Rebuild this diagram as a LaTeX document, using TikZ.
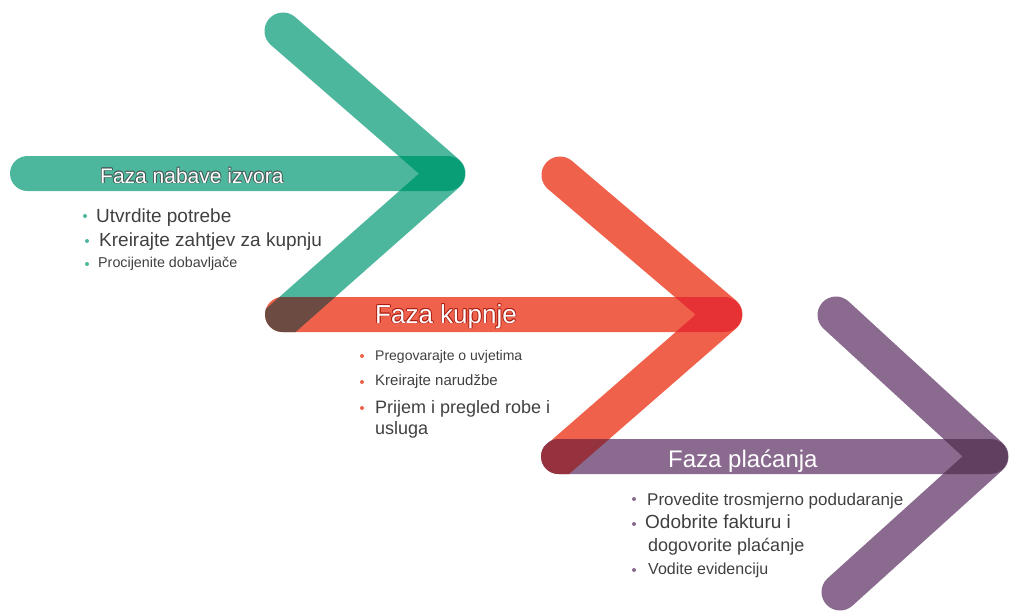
\documentclass[tikz,border=0pt]{standalone}
\usepackage{fontspec}
\setmainfont{Liberation Sans}
\definecolor{tealc}{RGB}{77,183,158}
\definecolor{tealo}{RGB}{10,158,118}
\definecolor{redc}{RGB}{240,97,75}
\definecolor{redo}{RGB}{230,50,52}
\definecolor{purc}{RGB}{138,106,142}
\definecolor{puro}{RGB}{96,64,97}
\definecolor{brownx}{RGB}{108,76,66}
\definecolor{maroonx}{RGB}{150,50,62}
\definecolor{txt}{RGB}{64,64,64}
\definecolor{tealout}{RGB}{70,90,85}
\definecolor{redout}{RGB}{170,30,20}
\begin{document}
\begin{tikzpicture}[x=1pt,y=-1pt,
  arm/.style={line width=37pt, line cap=round, line join=round},
  item/.style={anchor=base west, inner sep=0pt, text=txt},
  bul/.style={circle, inner sep=0pt, minimum size=4pt},
  head/.style={anchor=base west, inner sep=0pt, text=white}]
\useasboundingbox (0,0) rectangle (1009,611);
\clip (0,0) rectangle (1009,611);
% ---------- teal chevron
\coordinate (tA) at (283,31);
\coordinate (tT) at (447,173.5);
\coordinate (tB) at (236,360);
\fill[tealc, rounded corners=17.5pt] (10,156) rectangle (465,191);
\begin{scope}
  \clip (0,0) rectangle (1009,297.5);
  \draw[arm, tealc] (tA) -- (tT) -- (tB);
\end{scope}
\begin{scope}
  \clip[rounded corners=17.5pt] (10,156) rectangle (465,191);
  \draw[arm, tealo] (tA) -- (tT) -- (tB);
\end{scope}
% ---------- red chevron
\coordinate (rA) at (560,175);
\coordinate (rT) at (724,314.5);
\coordinate (rB) at (511,500);
\fill[redc, rounded corners=17.5pt] (265,297) rectangle (742,332);
\begin{scope}
  \clip[rounded corners=17.5pt] (265,297) rectangle (742,332);
  \draw[arm, brownx] (tA) -- (tT) -- (tB);
\end{scope}
\begin{scope}
  \clip (0,0) rectangle (1009,439.5);
  \draw[arm, redc] (rA) -- (rT) -- (rB);
\end{scope}
\begin{scope}
  \clip[rounded corners=17.5pt] (265,297) rectangle (742,332);
  \draw[arm, redo] (rA) -- (rT) -- (rB);
\end{scope}
% ---------- purple chevron
\coordinate (pA) at (836,315);
\coordinate (pT) at (990,456.5);
\coordinate (pB) at (840,592);
\fill[purc, rounded corners=17.5pt] (541,439) rectangle (1008,474);
\begin{scope}
  \clip[rounded corners=17.5pt] (541,439) rectangle (1008,474);
  \draw[arm, maroonx] (rA) -- (rT) -- (rB);
\end{scope}
\draw[arm, purc] (pA) -- (pT) -- (pB);
\begin{scope}
  \clip[rounded corners=17.5pt] (541,439) rectangle (1008,474);
  \draw[arm, puro] (pA) -- (pT) -- (pB);
\end{scope}
% ---------- headers
\foreach \dx/\dy in {-0.8/0,0.8/0,0/-0.8,0/0.8,-0.6/-0.6,0.6/0.6,-0.6/0.6,0.6/-0.6}{
  \node[head, text=tealout, font=\fontsize{21}{25}\selectfont] at (100+\dx,183+\dy) {Faza nabave izvora};
  \node[head, text=redout, font=\fontsize{26}{30}\selectfont] at (375+\dx,323+\dy) {Faza kupnje};
}
\node[head, font=\fontsize{21}{25}\selectfont] (h1) at (100,183) {Faza nabave izvora};
\node[head, font=\fontsize{26}{30}\selectfont] (h2) at (375,323) {Faza kupnje};
\node[head, font=\fontsize{24}{28}\selectfont] (h3) at (668,467) {Faza plaćanja};
% ---------- teal items
\node[bul, fill=tealc] (tb1) at (85,216) {};
\node[item, font=\fontsize{19}{22}\selectfont] (ti1) at (96,222) {Utvrdite potrebe};
\node[bul, fill=tealc] (tb2) at (87,241) {};
\node[item, font=\fontsize{19}{22}\selectfont] (ti2) at (99,246) {Kreirajte zahtjev za kupnju};
\node[bul, fill=tealc] (tb3) at (87,264) {};
\node[item, font=\fontsize{14.3}{17}\selectfont] (ti3) at (98,267) {Procijenite dobavljače};
% ---------- red items
\node[bul, fill=redc] (rb1) at (362,356) {};
\node[item, font=\fontsize{14}{17}\selectfont] (ri1) at (375,360) {Pregovarajte o uvjetima};
\node[bul, fill=redc] (rb2) at (362,382) {};
\node[item, font=\fontsize{15}{18}\selectfont] (ri2) at (375,385) {Kreirajte narudžbe};
\node[bul, fill=redc] (rb3) at (362,408) {};
\node[item, font=\fontsize{18}{21}\selectfont] (ri3) at (375,413) {Prijem i pregled robe i};
\node[item, font=\fontsize{18}{21}\selectfont] (ri4) at (375,434) {usluga};
% ---------- purple items
\node[bul, fill=purc] (pb1) at (634,499) {};
\node[item, font=\fontsize{17}{20}\selectfont] (pi1) at (647,505) {Provedite trosmjerno podudaranje};
\node[bul, fill=purc] (pb2) at (634,524) {};
\node[item, font=\fontsize{19}{22}\selectfont] (pi2) at (645,528) {Odobrite fakturu i};
\node[item, font=\fontsize{18}{21}\selectfont] (pi3) at (648,551) {dogovorite plaćanje};
\node[bul, fill=purc] (pb3) at (634,570) {};
\node[item, font=\fontsize{16}{19}\selectfont] (pi4) at (648,574) {Vodite evidenciju};
\end{tikzpicture}
\end{document}
